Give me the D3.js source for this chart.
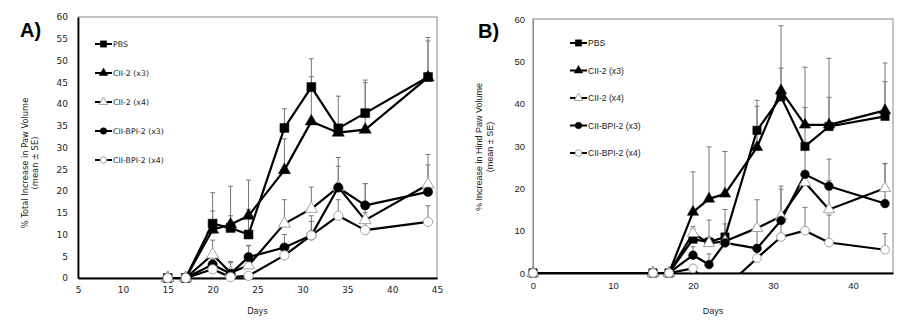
<!DOCTYPE html>
<html>
<head>
<meta charset="utf-8">
<script src="https://cdn.jsdelivr.net/npm/d3@7"></script>
<style>
  body { margin: 0; background: #fff; }
</style>
</head>
<body>
<svg id="chart" width="901" height="322"></svg>
<script>
// series names + marker look, same order in both panels
const seriesNames = ["PBS", "CII-2 (x3)", "CII-2 (x4)", "CII-BPI-2 (x3)", "CII-BPI-2 (x4)"];
const markerTypes = ["square", "triangle", "triangleOpen", "circle", "circleOpen"];

// Panel A - total paw volume
const daysA = [15, 17, 20, 22, 24, 28, 31, 34, 37, 44];
const pbsA     = [0, 0, 12.5, 11.5, 10.0, 34.5, 43.9, 34.4, 37.9, 46.2];
const pbsASE   = [0, 0, 7.1, 9.6, 12.5, 4.4, 6.5, 7.4, 7.6, 9.1];
const cii3A    = [0, 0, 11.1, 12.3, 14.3, 24.8, 36.0, 33.4, 34.1, 46.1];
const cii3ASE  = [0, 0, 4.3, 2.0, 1.5, 7.2, 10.3, 1.5, 10.8, 8.4];
const cii4A    = [0, 0, 5.4, 1.2, 2.9, 12.5, 15.9, 20.9, 13.3, 21.5];
const cii4ASE  = [0, 0, 3.3, 2.6, 4.5, 5.5, 5.0, 6.8, 8.4, 6.9];
const bpi3A    = [0, 0, 3.1, 1.0, 4.8, 7.0, 9.8, 20.8, 16.7, 19.8];
const bpi3ASE  = [0, 0, 1.2, 2.5, 2.7, 3.0, 4.5, 4.9, 5.0, 6.2];
const bpi4A    = [0, 0, 2.0, 0.2, 0.5, 5.2, 9.8, 14.3, 11.0, 12.9];
const bpi4ASE  = [0, 0, 0.8, 0.5, 0.5, 1.5, 3.2, 3.7, 4.0, 3.7];

// Panel B - hind paw volume
const daysB = [0, 15, 17, 20, 22, 24, 28, 31, 34, 37, 44];
const pbsB     = [0, 0, 0, 8.0, 7.3, 8.5, 33.7, 41.6, 29.9, 34.6, 37.0];
const pbsBSE   = [0, 0, 0, 3.0, 5.2, 6.5, 5.7, 6.8, 9.2, 6.9, 8.2];
const cii3B    = [0, 0, 0, 14.4, 17.5, 18.7, 29.7, 43.1, 35.0, 35.0, 38.4];
const cii3BSE  = [0, 0, 0, 9.5, 12.3, 10.0, 11.1, 15.3, 13.6, 15.7, 11.2];
const cii4B    = [0, 0, 0, 9.4, 7.0, 7.5, 10.6, 13.4, 21.4, 15.0, 20.0];
const cii4BSE  = [0, 0, 0, 1.0, 1.5, 1.5, 6.7, 7.1, 2.0, 6.8, 5.9];
const bpi3B    = [0, 0, 0, 4.2, 2.0, 7.1, 5.8, 12.4, 23.3, 20.5, 16.4];
const bpi3BSE  = [0, 0, 0, 2.0, 2.5, 4.5, 4.0, 7.4, 7.0, 6.4, 9.4];
const bpi4B    = [0, 0, 0, 1.1, -3.0, -3.5, 3.5, 8.5, 10.0, 7.2, 5.5];
const bpi4BSE  = [0, 0, 0, 0.8, 0, 0, 2.0, 4.0, 5.5, 6.5, 3.8];

const ticksXA = [5, 10, 15, 20, 25, 30, 35, 40, 45];
const ticksYA = [0, 5, 10, 15, 20, 25, 30, 35, 40, 45, 50, 55, 60];
const ticksXB = [0, 10, 20, 30, 40];
const ticksYB = [0, 10, 20, 30, 40, 50, 60];

const svg = d3.select("#chart");

function buildSeries(days, values, errors) {
    return values.map((vals, i) => ({
        name: seriesNames[i],
        marker: markerTypes[i],
        points: days.map((d, j) => ({ day: d, v: vals[j], se: errors[i][j] }))
    }));
}

function drawMarker(sel, type, size) {
    const isTri = type.startsWith("triangle");
    const isCircle = type.startsWith("circle");
    const shape = isTri ? d3.symbolTriangle : (isCircle ? d3.symbolCircle : d3.symbolSquare);
    const open = type.endsWith("Open");
    sel.append("path")
        .attr("d", d3.symbol().type(shape).size(isTri ? size * 0.8 : (isCircle ? size * 0.85 : size)))
        .attr("fill", open ? "#fff" : "#000")
        .attr("stroke", open ? "#999" : "#000")
        .attr("stroke-width", open ? 0.9 : 0.5);
}

function drawPanel(p) {
    const g = svg.append("g");
    const x = d3.scaleLinear().domain(p.xDomain).range([p.left, p.right]);
    const y = d3.scaleLinear().domain([0, 60]).range([p.bottom, p.top]);

    // frame
    g.append("rect")
        .attr("x", p.left).attr("y", p.top)
        .attr("width", p.right - p.left).attr("height", p.bottom - p.top)
        .attr("fill", "none").attr("stroke", "#888").attr("stroke-width", 1);

    const clipId = "clip" + p.label;
    svg.append("clipPath").attr("id", clipId)
        .append("rect")
        .attr("x", p.left).attr("y", p.top - 5)
        .attr("width", p.right - p.left).attr("height", p.bottom - p.top + 5);

    // axes
    const xAxis = g.append("g")
        .attr("transform", `translate(0,${p.bottom})`)
        .call(d3.axisBottom(x).tickValues(p.ticksX).tickSize(0).tickPadding(p.xPad));
    const yAxis = g.append("g")
        .attr("transform", `translate(${p.left},0)`)
        .call(d3.axisLeft(y).tickValues(p.ticksY).tickSize(0).tickPadding(p.yPad));
    xAxis.select(".domain").attr("stroke", "#000").attr("stroke-width", 2);
    yAxis.select(".domain").attr("stroke", p.label === "A" ? "#000" : "#888")
        .attr("stroke-width", p.label === "A" ? 1.8 : 1);
    [xAxis, yAxis].forEach(a => a.selectAll("text")
        .attr("font-family", p.font).attr("font-size", p.tickSize).attr("fill", "#222"));

    const series = p.series;

    // error bars (upper only)
    series.forEach(s => {
        const eb = g.append("g").attr("stroke", "#777").attr("stroke-width", 1);
        s.points.filter(d => d.se > 0 && d.v >= 0).forEach(d => {
            eb.append("line")
                .attr("x1", x(d.day)).attr("x2", x(d.day))
                .attr("y1", y(d.v)).attr("y2", y(d.v + d.se));
            eb.append("line")
                .attr("x1", x(d.day) - 2.5).attr("x2", x(d.day) + 2.5)
                .attr("y1", y(d.v + d.se)).attr("y2", y(d.v + d.se));
        });
    });

    const line = d3.line().x(d => x(d.day)).y(d => y(d.v));
    series.forEach(s => {
        g.append("path")
            .datum(s.points)
            .attr("clip-path", `url(#${clipId})`)
            .attr("d", line)
            .attr("fill", "none")
            .attr("stroke", "#000")
            .attr("stroke-width", 2.2)
            .attr("stroke-linejoin", "round");
    });

    series.forEach(s => {
        s.points.filter(d => d.v >= 0).forEach(d => {
            const m = g.append("g").attr("transform", `translate(${x(d.day)},${y(d.v)})`);
            drawMarker(m, s.marker, p.markerSize);
        });
    });

    // legend
    series.forEach((s, i) => {
        const ly = p.legendY + i * p.legendStep;
        const lg = g.append("g").attr("transform", `translate(${p.legendX},${ly})`);
        lg.append("line").attr("x1", 0).attr("x2", 17).attr("y1", 0).attr("y2", 0)
            .attr("stroke", "#000").attr("stroke-width", 2);
        drawMarker(lg.append("g").attr("transform", "translate(8.5,0)"), s.marker, 40);
        lg.append("text").attr("x", 18).attr("y", 0).attr("dy", "0.35em")
            .attr("font-family", p.font).attr("font-size", p.legendSize).attr("fill", "#222")
            .text(s.name);
    });

    // titles
    g.append("text")
        .attr("x", (p.left + p.right) / 2).attr("y", p.daysY)
        .attr("text-anchor", "middle")
        .attr("font-family", p.font).attr("font-size", p.titleSize).attr("fill", "#222")
        .text("Days");
    const yt = g.append("text")
        .attr("transform", `translate(${p.yTitleX},${p.yTitleCY}) rotate(-90)`)
        .attr("text-anchor", "middle")
        .attr("font-family", p.font).attr("font-size", p.titleSize).attr("fill", "#222");
    yt.append("tspan").attr("x", 0).attr("dy", 0).text(p.yTitle);
    yt.append("tspan").attr("x", 0).attr("dy", "1.25em").text("(mean \u00b1 SE)");

    g.append("text")
        .attr("x", p.labelX).attr("y", p.labelY)
        .attr("font-family", "Liberation Sans, Arial, sans-serif")
        .attr("font-weight", "bold").attr("font-size", 20)
        .text(p.label + ")");
}

drawPanel({
    label: "A",
    left: 78, right: 437, top: 17, bottom: 278,
    xDomain: [5, 45], ticksX: ticksXA, ticksY: ticksYA,
    xPad: 9, yPad: 10,
    font: "DejaVu Sans, Verdana, sans-serif", tickSize: 9, legendSize: 7.8, titleSize: 8.3,
    series: buildSeries(daysA, [pbsA, cii3A, cii4A, bpi3A, bpi4A],
        [pbsASE, cii3ASE, cii4ASE, bpi3ASE, bpi4ASE]),
    markerSize: 80,
    legendX: 95, legendY: 44, legendStep: 29,
    daysY: 314, yTitleX: 28, yTitleCY: 163,
    yTitle: "% Total Increase in Paw Volume",
    labelX: 20, labelY: 37
});

drawPanel({
    label: "B",
    left: 533, right: 893, top: 19, bottom: 273,
    xDomain: [0, 45], ticksX: ticksXB, ticksY: ticksYB,
    xPad: 9, yPad: 8,
    font: "Liberation Sans, Arial, sans-serif", tickSize: 9.5, legendSize: 8.6, titleSize: 9,
    series: buildSeries(daysB, [pbsB, cii3B, cii4B, bpi3B, bpi4B],
        [pbsBSE, cii3BSE, cii4BSE, bpi3BSE, bpi4BSE]),
    markerSize: 70,
    legendX: 570, legendY: 43, legendStep: 27.5,
    daysY: 314, yTitleX: 482, yTitleCY: 147,
    yTitle: "% Increase in Hind Paw Volume",
    labelX: 478, labelY: 38
});
</script>
</body>
</html>
